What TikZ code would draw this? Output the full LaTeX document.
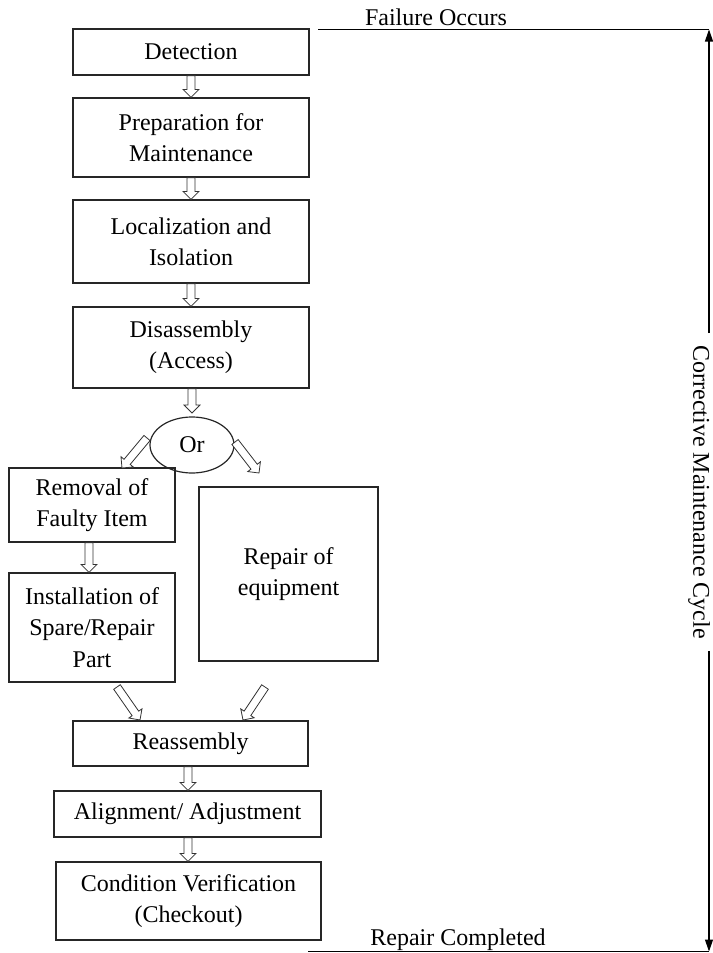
\documentclass[tikz,border=0pt]{standalone}
\usepackage{fontspec}
\setmainfont{Liberation Serif}
\usetikzlibrary{calc,arrows.meta,shapes.geometric}

\newcommand{\hollowarr}[2]{%
  \coordinate (hahead) at ($(#2)!6pt!(#1)$);
  \draw[arrowline] ($(#1)!3pt!90:(#2)$) -- ($(hahead)!3pt!-90:(#1)$) -- ($(hahead)!6pt!-90:(#1)$) -- (#2) -- ($(hahead)!6pt!90:(#1)$) -- ($(hahead)!3pt!90:(#1)$) -- ($(#1)!3pt!-90:(#2)$) -- cycle;
}

\tikzset{
  box/.style={draw=black!85, line width=0.9pt, align=center, inner sep=0pt,
    font=\fontsize{18pt}{23.5pt}\selectfont},
  label/.style={inner sep=0pt, font=\fontsize{18pt}{23.5pt}\selectfont},
  arrowline/.style={draw=black!80, line width=0.6pt, fill=white, line join=miter},
  cycleline/.style={draw=black, line width=0.9pt},
  tip/.style={-{Triangle[width=6pt,length=9pt]}}
}

\begin{document}
\begin{tikzpicture}[x=0.75pt,y=-0.75pt]
\useasboundingbox (0,0) rectangle (713,953);

% main boxes
\node[box, minimum width=177pt, minimum height=34.5pt] (det) at (191,52) {Detection};
\node[box, minimum width=177pt, minimum height=59.25pt] (prep) at (191,137.5) {Preparation for\\Maintenance};
\node[box, minimum width=177pt, minimum height=62.25pt] (loc) at (191,241.5) {Localization and\\Isolation};
\node[box, minimum width=177pt, minimum height=60.75pt] (dis) at (191,347.5) {Disassembly\\(Access)};
\node[box, ellipse, minimum width=63pt, minimum height=42pt] (or) at (192,445) {Or};
\node[box, minimum width=124.5pt, minimum height=55.5pt] (rem) at (92,505) {Removal of\\Faulty Item};
\node[box, minimum width=124.5pt, minimum height=81.75pt] (inst) at (92,627.5) {Installation of\\Spare/Repair\\Part};
\node[box, minimum width=134.25pt, minimum height=130.5pt] (rep) at (288.5,574) {Repair of\\equipment};
\node[box, minimum width=176.25pt, minimum height=33.75pt] (reas) at (190.5,743.5) {Reassembly};
\node[box, minimum width=200.25pt, minimum height=34.5pt] (align) at (187.5,814) {Alignment/ Adjustment};
\node[box, minimum width=198.75pt, minimum height=58.5pt] (cond) at (188.5,901) {Condition Verification\\(Checkout)};

% hollow block arrows
\hollowarr{det.south}{prep.north}
\hollowarr{prep.south}{loc.north}
\hollowarr{loc.south}{dis.north}
\coordinate (dis2) at (192,413);
\hollowarr{dis.south -| dis2}{dis2}
\coordinate (ol1) at (147,438);
\coordinate (ol2) at (122,468);
\hollowarr{ol1}{ol2}
\coordinate (or1) at (235,442);
\coordinate (or2) at (259,473);
\hollowarr{or1}{or2}
\coordinate (ri) at (89,543);
\hollowarr{rem.south -| ri}{inst.north -| ri}
\coordinate (il1) at (117,687);
\coordinate (il2) at (140,720);
\hollowarr{il1}{il2}
\coordinate (ir1) at (265,687);
\coordinate (ir2) at (243,720);
\hollowarr{ir1}{ir2}
\coordinate (va) at (188,766);
\hollowarr{reas.south -| va}{align.north -| va}
\hollowarr{align.south -| va}{cond.north -| va}

% corrective maintenance cycle
\coordinate (tl) at (318,29.5);
\coordinate (tr) at (709,29.5);
\coordinate (bl) at (308,951.5);
\coordinate (br) at (709,951.5);
\node[label, anchor=base] (fail) at (436,25) {Failure Occurs};
\node[label, anchor=base] (done) at (458,945) {Repair Completed};
\node[label, rotate=-90, inner xsep=9pt] (cyc) at (699,492) {Corrective Maintenance Cycle};
\draw[cycleline] (tl) -- (tr);
\draw[cycleline] (bl) -- (br);
\draw[cycleline, tip] (cyc.west -| tr) -- (tr);
\draw[cycleline, tip] (cyc.east -| br) -- (br);
\end{tikzpicture}
\end{document}
